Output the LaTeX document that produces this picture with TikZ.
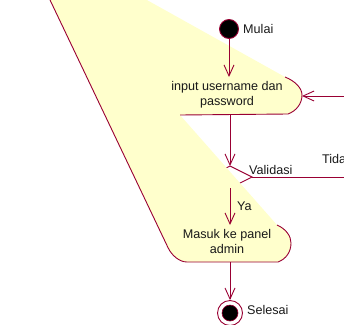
\documentclass[tikz,border=0pt]{standalone}
\usepackage{fontspec}
\setmainfont{Liberation Sans}
\usetikzlibrary{arrows.meta}
\definecolor{edge}{RGB}{153,0,51}
\definecolor{actfill}{RGB}{255,255,204}

\begin{document}
\begin{tikzpicture}[x=1pt,y=-1pt,
  outline/.style={draw=edge, line width=0.9pt},
  flow/.style={draw=edge, line width=0.9pt,
    -{Straight Barb[length=11pt,width=10pt,line width=0.9pt]}},
  lbl/.style={inner sep=0pt, anchor=west, text=black!90,
    font=\fontsize{12.6}{15}\selectfont},
  acttext/.style={inner sep=0pt, align=center, text=black!90,
    font=\fontsize{12.6}{15}\selectfont}]
\useasboundingbox (0,0) rectangle (344,324);
\clip (0,0) rectangle (344,324);

% decision diamond (its left half lies under the activity fill)
\coordinate (dtop) at (230,166);
\coordinate (dright) at (252,177);
\coordinate (dbot) at (230,188);
\coordinate (dleft) at (208,177);
\draw[outline] (dtop) -- (dright) -- (dbot) -- (dleft) -- cycle;

% filled area of the two activity states
\fill[actfill] (40.5,-20) -- (111,-20) -- (285,77)
  .. controls (295,81) and (302,88) .. (302,95)
  .. controls (302,104) and (296,111) .. (288,114)
  -- (180,115) -- (277,225)
  .. controls (286,229) and (291,236) .. (291,243)
  .. controls (291,252) and (286,259) .. (278,262)
  -- (187,262) .. controls (179,262) and (171.5,255) .. (168,247.6)
  -- cycle;

% outlines of the activity states
\draw[outline] (285,77)
  .. controls (295,81) and (302,88) .. (302,95)
  .. controls (302,104) and (296,111) .. (288,114) -- (180,115);
\draw[outline] (277,225)
  .. controls (286,229) and (291,236) .. (291,243)
  .. controls (291,252) and (286,259) .. (278,262)
  -- (187,262) .. controls (179,262) and (171.5,255) .. (168,247.6)
  -- (40.5,-20);

% initial and final states
\node[circle, fill=black, draw=edge, line width=0.9pt, minimum size=19pt,
  inner sep=0pt] (start) at (229,29) {};
\node[circle, draw=edge, fill=white, line width=0.9pt, minimum size=25pt,
  inner sep=0pt] (stop) at (230,313) {};
\node[circle, fill=black, draw=edge, line width=0.6pt, minimum size=16pt,
  inner sep=0pt] (stopdot) at (stop) {};

% anchor points on the activity states
\coordinate (intop) at (229,77);
\coordinate (inbot) at (230,115);
\coordinate (inright) at (302,96);
\coordinate (masuktop) at (230,225);
\coordinate (masukbot) at (230,262);
\coordinate (loopend) at (350,96);
\coordinate (noend) at (350,177);

% transitions
\draw[flow] (start) -- (intop);
\draw[flow] (inbot) -- (dtop);
\draw[flow] (dbot) -- (masuktop);
\draw[flow] (masukbot) -- (stop);
\draw[outline] (dright) -- (noend);
\draw[flow] (loopend) -- (inright);

% labels
\node[lbl] (mulai) at (243,29) {Mulai};
\node[acttext] (inputtxt) at (227,94.5) {input username dan\\password};
\node[lbl] (validasi) at (249,170) {Validasi};
\node[lbl] (tidak) at (322,159) {Tidak};
\node[lbl] (ya) at (237,206) {Ya};
\node[acttext] (masuktxt) at (227,241.5) {Masuk ke panel\\admin};
\node[lbl] (selesai) at (247,310) {Selesai};
\end{tikzpicture}
\end{document}
